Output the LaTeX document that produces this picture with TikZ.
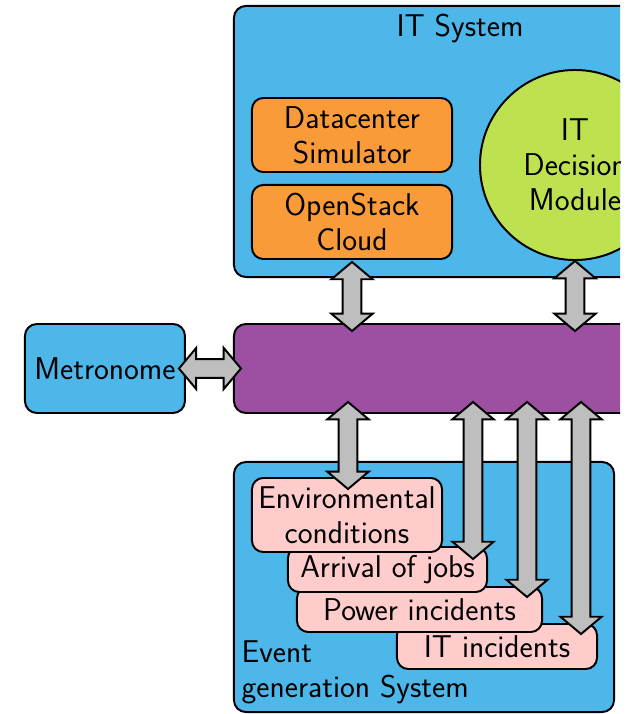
\documentclass[tikz,border=0pt]{standalone}
\usepackage{tikz}
\usetikzlibrary{positioning,calc,shapes.arrows}
\definecolor{skyblue}{RGB}{77,183,234}
\definecolor{modorange}{RGB}{250,155,58}
\definecolor{lime}{RGB}{190,225,80}
\definecolor{plum}{RGB}{157,79,161}
\definecolor{blush}{RGB}{255,204,204}
\definecolor{arrgray}{RGB}{190,190,190}
\newcommand{\biarrow}[2]{\path let \p1=#1, \p2=#2 in node[fat,minimum height={veclen(\x2-\x1,\y2-\y1)},rotate={atan2(\y2-\y1,\x2-\x1)}] at ($(\p1)!0.5!(\p2)$) {};}
\newcommand{\bigsf}{\fontsize{22.4}{25}\selectfont\sffamily}

\begin{document}
\begin{tikzpicture}[x=0.025cm,y=-0.025cm,
  sys/.style={draw=black,fill=skyblue,line width=1.4pt,rounded corners=8.5pt,font=\bigsf},
  mod/.style={draw=black,fill=modorange,line width=1.4pt,rounded corners=8pt,minimum width=5cm,minimum height=1.85cm,align=center,font=\bigsf},
  evt/.style={draw=black,fill=blush,line width=1.4pt,rounded corners=8pt,minimum height=1.125cm,align=center,font=\bigsf},
  fat/.style={double arrow,draw=black,fill=arrgray,line width=1.4pt,inner xsep=0pt,inner ysep=0.21cm,double arrow head extend=0.28cm,double arrow tip angle=100,double arrow head indent=0pt},
  lab/.style={font=\bigsf},every node/.style={inner sep=2pt}]
\useasboundingbox (0,0) rectangle (641,714);
\clip (0,0) rectangle (620,714);
\node[sys,minimum width=11.3cm,minimum height=6.775cm] (itsys) at (460,141.5) {};
\node[lab,below=4pt of itsys.north] (itlab) {IT System};
\node[mod] (dcsim) at (352,135) {Datacenter\\Simulator};
\node[mod,below=0.275cm of dcsim] (osc) {OpenStack\\Cloud};
\node[circle,draw=black,fill=lime,line width=1.4pt,minimum size=4.75cm,align=center,font=\bigsf] (itdm) at (575,165) {IT\\Decision\\Module};
\node[draw=black,fill=plum,line width=1.4pt,rounded corners=8.5pt,minimum width=11.3cm,minimum height=2.225cm] (bus) at (460,368.5) {};
\node[sys,minimum width=4cm,minimum height=2.225cm,inner sep=0pt,left=1.175cm of bus] (metro) {Metronome};
\node[sys,minimum width=9.5cm,minimum height=6.25cm] (evsys) at (424,587) {};
\node[evt,minimum width=5cm] (iti) at (497,646.5) {IT incidents};
\node[evt,minimum width=6.125cm] (powi) at (419.5,609.5) {Power incidents};
\node[evt,minimum width=4.975cm] (arrj) at (387.5,569.5) {Arrival of jobs};
\node[evt,minimum width=4.75cm,minimum height=1.85cm] (envc) at (347,515) {Environmental\\conditions};
\node[lab,align=left,inner sep=6pt,above right=0pt and 0pt of evsys.south west] (evlab) {Event\\generation System};
\biarrow{($(metro.east)+(-7,0)$)}{($(bus.west)+(8,0)$)}
\biarrow{($(osc.south)+(0,2)$)}{($(osc.south |- bus.north)+(0,8)$)}
\biarrow{(itdm.south)}{($(itdm.south |- bus.north)+(0,8)$)}
\biarrow{($(envc.north |- bus.south)+(1,-12)$)}{($(envc.north)+(1,12)$)}
\biarrow{($(arrj.north east |- bus.south)+(-15,-12)$)}{($(arrj.north east)+(-15,13)$)}
\biarrow{($(powi.north east |- bus.south)+(-16,-12)$)}{($(powi.north east)+(-16,11)$)}
\biarrow{($(iti.north east |- bus.south)+(-17,-12)$)}{($(iti.north east)+(-17,11)$)}
\end{tikzpicture}
\end{document}
